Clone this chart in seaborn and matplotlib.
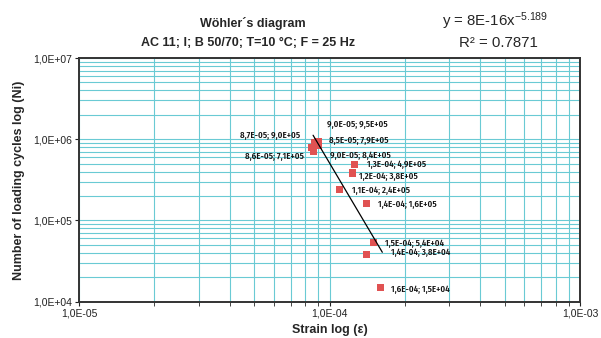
import numpy as np
import pandas as pd
import matplotlib
matplotlib.use("Agg")
import matplotlib.pyplot as plt
import seaborn as sns
from matplotlib import font_manager as fm
from matplotlib.ticker import LogLocator, FuncFormatter, NullFormatter

# ---- data ----
strain = [8.7e-5, 9.0e-5, 8.5e-5, 8.6e-5, 9.0e-5, 1.26e-4, 1.24e-4, 1.1e-4, 1.4e-4, 1.5e-4, 1.4e-4, 1.6e-4]
cycles = [9.0e5, 9.5e5, 7.9e5, 7.1e5, 8.4e5, 4.9e5, 3.84e5, 2.4e5, 1.6e5, 5.4e4, 3.8e4, 1.5e4]
trend_strain = [8.6e-5, 1.625e-4]
trend_cycles = [1.12e6, 4.06e4]
x_ticks = [1e-5, 1e-4, 1e-3]
y_ticks = [1e4, 1e5, 1e6, 1e7]
title_lines = ["Wöhler´s diagram", "AC 11; I; B 50/70; T=10 °C; F = 25 Hz"]
equation = r"y = 8E-16x$^{-5.189}$"
r2_text = "R² = 0.7871"
x_label = "Strain log (ε)"
y_label = "Number of loading cycles log (Ni)"

# label placement (pixel offsets from each point, alignment)
label_offsets = [(-14, 7, "right"), (9, 16.5, "left"), (17.6, 6.6, "left"), (-9.6, -5, "right"),
                 (11.7, -9.9, "left"), (12.6, -0.2, "left"), (6.3, -4, "left"), (11.7, -0.8, "left"),
                 (11.8, -0.8, "left"), (11, -1, "left"), (25.2, 1.7, "left"), (10.7, -2, "left")]


def sci(v):
    return f"{v:.1E}".replace(".", ",")


def pick_narrow_font():
    stretch_rank = {"extra-condensed": 0, "condensed": 2, "ultra-condensed": 3, "semi-condensed": 4}
    best, best_score = None, None
    for f in fm.fontManager.ttflist:
        name = f.name
        st = f.stretch
        if isinstance(st, (int, float)):
            st = {100: "ultra-condensed", 200: "extra-condensed", 300: "condensed",
                  400: "normal"}.get(int(st), "normal")
        if "ExtraCondensed" in name or "Extra Condensed" in name:
            st = "extra-condensed"
        narrow_name = ("Narrow" in name) or ("Condensed" in name)
        if st not in stretch_rank and not narrow_name:
            continue
        if f.style != "normal":
            continue
        w = f.weight
        if isinstance(w, str):
            w = {"normal": 400, "regular": 400, "book": 400, "medium": 500}.get(w.lower(), 700)
        if w not in (400, 500):
            continue
        score = stretch_rank.get(st, 2 if "Condensed" in name else 1)
        if "Liberation Sans Narrow" in name:
            score = 1
        score += 0 if w == 500 else 0.3
        if best_score is None or score < best_score:
            best, best_score = f, score
    return best


sns.set_theme(style="white")
plt.rcParams["font.family"] = ["Liberation Sans", "DejaVu Sans"]
plt.rcParams["mathtext.default"] = "regular"

narrow = pick_narrow_font()
if narrow is not None:
    label_fp = fm.FontProperties(fname=narrow.fname, size=7.5)
else:
    label_fp = fm.FontProperties(family="DejaVu Sans", stretch="condensed", size=7.5)

df = pd.DataFrame({"strain": strain, "cycles": cycles})
tdf = pd.DataFrame({"strain": trend_strain, "cycles": trend_cycles})

fig = plt.figure(figsize=(6.01, 3.38), dpi=100)
ax = fig.add_axes([79/601, 1-301.7/338, (580-79)/601, (301.7-58)/338])
ax.set_xscale("log")
ax.set_yscale("log")
ax.set_xlim(1e-5, 1e-3)
ax.set_ylim(1e4, 1e7)

grid_c = "#6ACAD4"
ax.xaxis.set_major_locator(LogLocator(base=10, numticks=10))
ax.xaxis.set_minor_locator(LogLocator(base=10, subs=np.arange(2, 10), numticks=20))
ax.yaxis.set_major_locator(LogLocator(base=10, numticks=10))
ax.yaxis.set_minor_locator(LogLocator(base=10, subs=np.arange(2, 10), numticks=20))
ax.grid(True, which="both", color=grid_c, linewidth=0.8)
ax.set_axisbelow(True)

sns.scatterplot(data=df, x="strain", y="cycles", marker="s", s=26, color="#E05252",
                edgecolor="none", linewidth=0, ax=ax, zorder=3)
sns.lineplot(data=tdf, x="strain", y="cycles", color="black", linewidth=0.9, ax=ax, zorder=4)

# fit label size so a label is ~60 px wide as in the reference
renderer = fig.canvas.get_renderer()
probe = fig.text(0, 0, f"{sci(strain[0])}; {sci(cycles[0])}", fontproperties=label_fp)
wpx = probe.get_window_extent(renderer).width
probe.remove()
size = float(np.clip(7.5 * 60.0 / max(wpx, 1), 7.0, 8.6))
label_fp.set_size(size)

for (xv, yv), (dx, dy, ha) in zip(zip(strain, cycles), label_offsets):
    ax.annotate(f"{sci(xv)}; {sci(yv)}", (xv, yv), xytext=(dx, dy), textcoords="offset pixels",
                ha=ha, va="center", fontproperties=label_fp, color="#111111", zorder=5)

ax.set_xticks(x_ticks)
ax.set_yticks(y_ticks)
ax.xaxis.set_major_formatter(FuncFormatter(lambda v, p: sci(v)))
ax.yaxis.set_major_formatter(FuncFormatter(lambda v, p: sci(v)))
ax.xaxis.set_minor_formatter(NullFormatter())
ax.yaxis.set_minor_formatter(NullFormatter())
ax.tick_params(axis="both", which="major", direction="out", length=3, width=0.8,
               labelsize=7.5, colors="#222222", bottom=True, left=True, pad=2)
ax.tick_params(axis="x", which="minor", direction="out", length=3, width=0.6, bottom=True)
ax.tick_params(axis="y", which="minor", length=0)

for s in ax.spines.values():
    s.set_color("#333333")
    s.set_linewidth(1.4)
    s.set_visible(True)

ax.set_xlabel(x_label, fontsize=9, fontweight="bold", labelpad=4)
ax.set_ylabel(y_label, fontsize=9, fontweight="bold", labelpad=6)

fig.text(253/601, 1-23/338, title_lines[0], ha="center", va="center", fontsize=9, fontweight="bold")
fig.text(248/601, 1-43/338, title_lines[1], ha="center", va="center", fontsize=9, fontweight="bold")
fig.text(495/601, 1-21/338, equation, ha="center", va="center", fontsize=10.8)
fig.text(498/601, 1-43/338, r2_text, ha="center", va="center", fontsize=10.8)

fig.savefig("out.png", dpi=100)
